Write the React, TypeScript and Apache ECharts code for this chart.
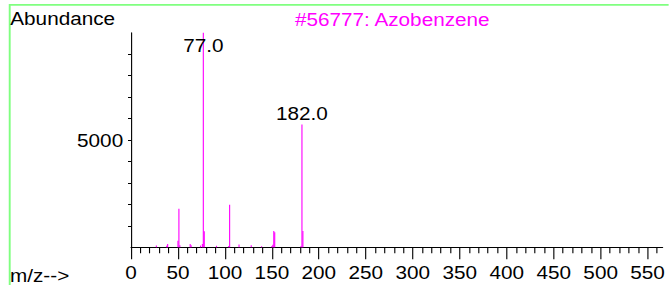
import React, { useEffect, useRef } from "react";
import * as echarts from "echarts";

// horizontal stretch of the reference rendering
const SX = 1.12;
const W = 669;
const H = 285;

const mz = [27, 38, 39, 50, 51, 52, 63, 64, 74, 76, 77, 78, 91, 104, 105, 115, 128, 139, 150, 151, 152, 153, 181, 182, 183];
const abundance = [80, 70, 150, 300, 1800, 90, 150, 100, 80, 150, 9999, 750, 70, 60, 1980, 130, 90, 50, 60, 120, 760, 700, 60, 5720, 760];
const labeledPeaks = [77, 182];
const xTickValues = [0, 50, 100, 150, 200, 250, 300, 350, 400, 450, 500, 550];
const yTickValues = [1000, 2000, 3000, 4000, 5000, 6000, 7000, 8000, 9000];
const yLabelValues = [5000];
const titleText = "#56777: Azobenzene";
const yName = "Abundance";
const xName = "m/z-->";

const FONT = "'Liberation Sans', Arial, Helvetica, sans-serif";
const FS = 18.5;

export default function App() {
  const ref = useRef<HTMLDivElement>(null);
  useEffect(() => {
    if (!ref.current) return;
    const chart = echarts.init(ref.current, undefined, { renderer: "svg" });
    const data = mz.map((m, i) => {
      const item: any = { value: [m, abundance[i]] };
      if (labeledPeaks.includes(m)) {
        item.label = {
          show: true,
          position: m === 77 ? "insideTop" : "top",
          distance: m === 77 ? 3.5 : 1.5,
          formatter: m.toFixed(1),
          color: "#000",
          fontSize: FS,
          fontFamily: FONT,
          textBorderWidth: 0,
        };
      }
      return item;
    });
    const base = (y: number) => y - 0.3465 * FS;
    chart.setOption({
      animation: false,
      backgroundColor: "#fff",
      grid: {
        left: 131 / SX,
        right: (W - 663) / SX,
        top: 32.7,
        bottom: H - 247.3,
        containLabel: false,
      },
      xAxis: {
        type: "value",
        min: 0,
        max: 566,
        interval: 50,
        axisLine: { show: true, lineStyle: { color: "#000", width: 1 } },
        axisTick: {
          show: true,
          customValues: xTickValues,
          length: 12,
          lineStyle: { color: "#000", width: 1 },
        },
        minorTick: {
          show: true,
          splitNumber: 5,
          length: 6,
          lineStyle: { color: "#000", width: 1 },
        },
        axisLabel: {
          customValues: xTickValues,
          formatter: (v: number) => String(v),
          color: "#000",
          fontSize: FS,
          fontFamily: FONT,
          margin: 16,
        },
        splitLine: { show: false },
        minorSplitLine: { show: false },
      },
      yAxis: {
        type: "value",
        min: 0,
        max: 10000,
        interval: 1000,
        axisLine: { show: true, lineStyle: { color: "#000", width: 1 } },
        axisTick: {
          show: true,
          customValues: yTickValues,
          length: 2.7,
          lineStyle: { color: "#000", width: 1 },
        },
        axisLabel: {
          customValues: yLabelValues,
          formatter: (v: number) => String(v),
          color: "#000",
          fontSize: FS,
          fontFamily: FONT,
          margin: 7,
        },
        splitLine: { show: false },
      },
      series: [
        {
          type: "bar",
          data,
          barWidth: 1,
          itemStyle: { color: "#ff00ff" },
          label: { show: false },
        },
      ],
      graphic: [
        {
          type: "rect",
          silent: true,
          shape: { x: 9.7 / SX, y: 4.85, width: 900, height: 500 },
          style: { fill: "none", stroke: "#80ff80", lineWidth: 1.7 },
        },
        {
          type: "text",
          x: 10.3 / SX,
          y: base(25),
          style: {
            text: yName,
            fontSize: FS,
            fontFamily: FONT,
            fill: "#000",
            align: "left",
            verticalAlign: "middle",
          },
        },
        {
          type: "text",
          x: 295 / SX,
          y: base(26.3),
          style: {
            text: titleText,
            fontSize: FS,
            fontFamily: FONT,
            fill: "#ff00ff",
            align: "left",
            verticalAlign: "middle",
          },
        },
        {
          type: "text",
          x: 10 / SX,
          y: base(281.7),
          style: {
            text: xName,
            fontSize: FS,
            fontFamily: FONT,
            fill: "#000",
            align: "left",
            verticalAlign: "middle",
          },
        },
      ],
    });
    return () => chart.dispose();
  }, []);
  return (
    <div
      ref={ref}
      style={{
        position: "absolute",
        left: 0,
        top: 0,
        width: W / SX,
        height: H,
        transform: `scaleX(${SX})`,
        transformOrigin: "0 0",
      }}
    />
  );
}
